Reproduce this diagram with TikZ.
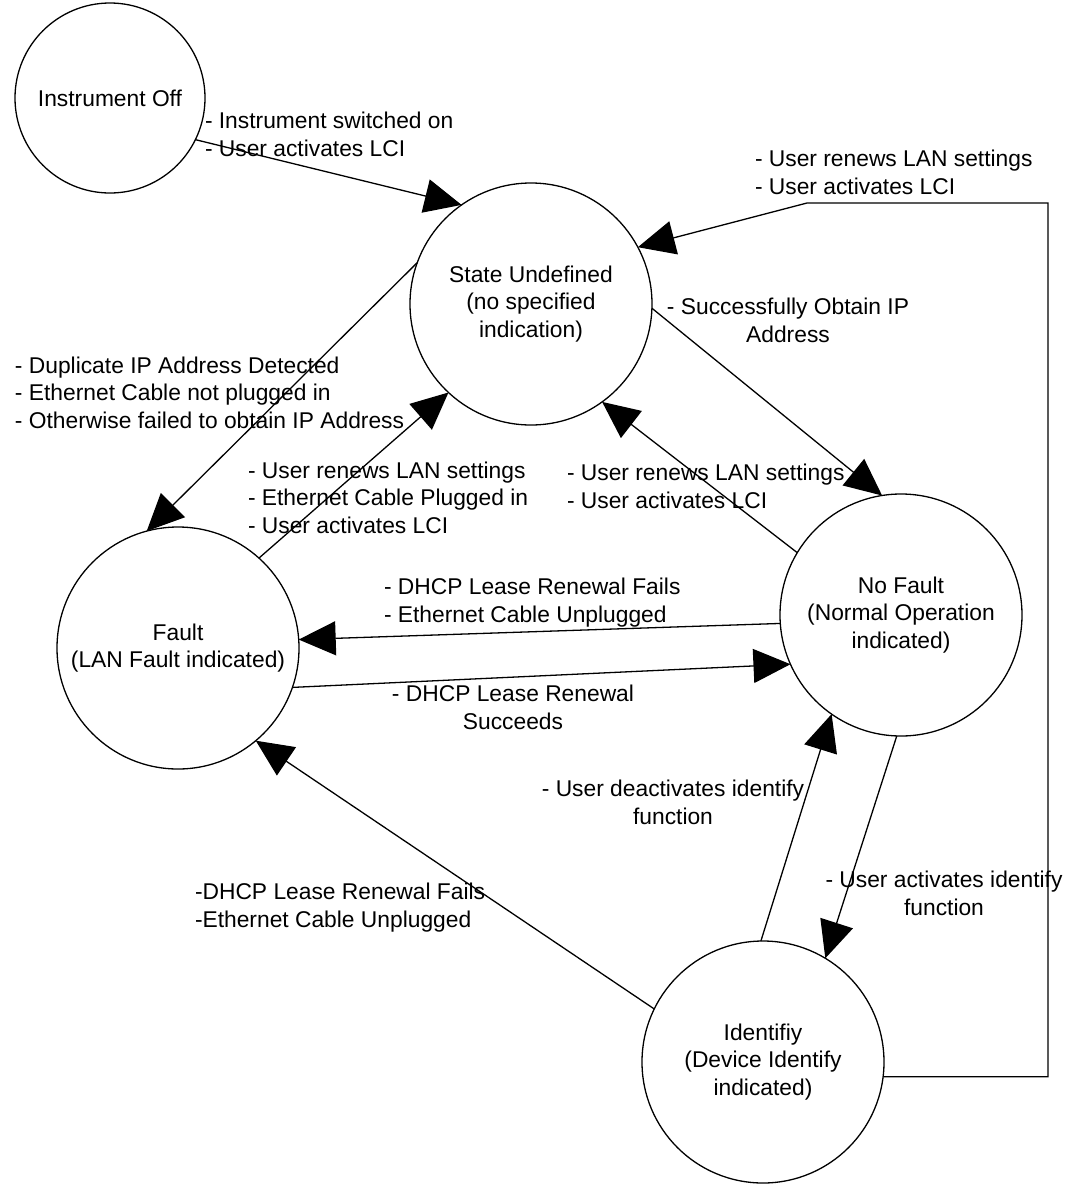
\documentclass[tikz,border=0pt]{standalone}
\usepackage{fontspec}
\setmainfont{Liberation Sans}
\usetikzlibrary{arrows.meta}
\begin{document}
\begin{tikzpicture}[x=1pt,y=-1pt,
  state/.style={circle,draw=black,line width=1.3pt,fill=white,inner sep=0pt,outer sep=0pt,minimum size=242pt,align=center,font=\fontsize{22.8}{27.5}\selectfont},
  smallstate/.style={state,minimum size=190pt},
  arr/.style={draw=black,line width=1.3pt,-{Triangle[length=37pt,width=34pt]}},
  lblL/.style={inner sep=0pt,outer sep=0pt,align=left,anchor=base west,font=\fontsize{22.8}{27.5}\selectfont},
  lblC/.style={inner sep=0pt,outer sep=0pt,align=center,anchor=base,font=\fontsize{22.8}{27.5}\selectfont}]
\useasboundingbox (0,0) rectangle (1065,1184);
\fill[white] (0,0) rectangle (1065,1184);

% states
\node[smallstate] (off) at (110,98) {Instrument Off};
\node[state] (und) at (531,304) {State Undefined\\(no specified\\indication)};
\node[state] (fault) at (178,648) {Fault\\(LAN Fault indicated)};
\node[state] (nof) at (901,615) {No Fault\\(Normal Operation\\indicated)};
\node[state] (ident) at (763,1062) {Identifiy\\(Device Identify\\indicated)};

% helper coordinates for the loop
\coordinate (c2) at (1048,203);
\coordinate (c3) at (807,203);

% connectors
\draw[arr] (off.-26) -- (und.125);
\draw[arr] (und.160) -- (fault.105);
\draw[arr] (fault.48) -- (und.227);
\draw[arr] (und.-2) -- (nof.99);
\draw[arr] (nof.149) -- (und.-54);
\draw[arr] (nof.184) -- (fault.4);
\draw[arr] (fault.-19) -- (nof.204);
\draw[arr] (ident.154) -- (fault.-50);
\draw[arr] (ident.91) -- (nof.235);
\draw[arr] (nof.268) -- (ident.59);
\draw[arr] (ident.-7) -| (c2) -- (c3) -- (und.28);

% labels (anchor = baseline of last line)
\node[lblL] (l1) at (205,156) {- Instrument switched on\\- User activates LCI};
\node[lblL] (l2) at (755,194) {- User renews LAN settings\\- User activates LCI};
\node[lblC] (l3) at (788,342) {- Successfully Obtain IP\\Address};
\node[lblL] (l4) at (15,428) {- Duplicate IP Address Detected\\- Ethernet Cable not plugged in\\- Otherwise failed to obtain IP Address};
\node[lblL] (l5) at (248,533) {- User renews LAN settings\\- Ethernet Cable Plugged in\\- User activates LCI};
\node[lblL] (l6) at (567,508) {- User renews LAN settings\\- User activates LCI};
\node[lblL] (l7) at (384,622) {- DHCP Lease Renewal Fails\\- Ethernet Cable Unplugged};
\node[lblC] (l8) at (513,729) {- DHCP Lease Renewal\\Succeeds};
\node[lblC] (l9) at (673,824) {- User deactivates identify\\function};
\node[lblC] (l10) at (944,915) {- User activates identify\\function};
\node[lblL] (l11) at (195,927) {-DHCP Lease Renewal Fails\\-Ethernet Cable Unplugged};
\end{tikzpicture}
\end{document}
